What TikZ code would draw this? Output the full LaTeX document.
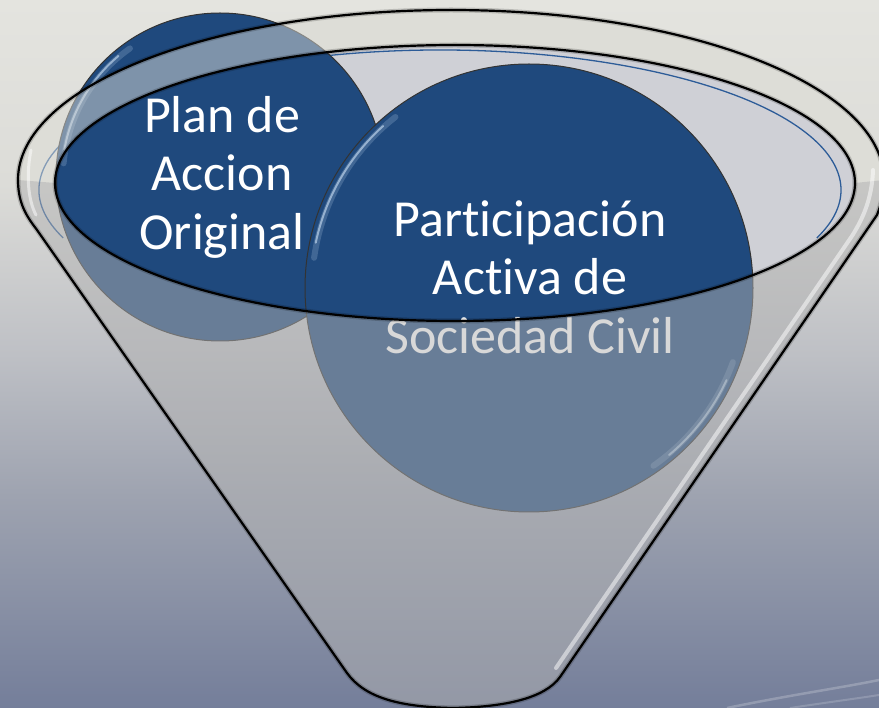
\documentclass[tikz,border=0pt]{standalone}
\usepackage{fontspec}
\setmainfont{Carlito}[RawFeature={-liga;-clig;-dlig;-calt}]
\usetikzlibrary{calc}

\definecolor{bgtop}{RGB}{228,228,223}
\definecolor{bgup}{RGB}{220,220,216}
\definecolor{bgmid}{RGB}{190,192,197}
\definecolor{bglow}{RGB}{158,163,176}
\definecolor{bgbot}{RGB}{116,126,154}
\definecolor{rimcol}{RGB}{221,221,215}
\definecolor{bodytop}{RGB}{188,188,186}
\definecolor{bodybot}{RGB}{162,163,168}
\definecolor{bodymid}{RGB}{178,178,178}
\definecolor{mouthcol}{RGB}{207,208,214}
\definecolor{navy}{RGB}{31,73,125}
\definecolor{edgeblue}{RGB}{45,92,152}
\definecolor{shine}{RGB}{205,226,246}

\pgfdeclareverticalshading{backdrop}{100bp}{color(0bp)=(bgbot); color(25bp)=(bgbot); color(40bp)=(bglow); color(50bp)=(bgmid); color(62bp)=(bgup); color(75bp)=(bgtop); color(100bp)=(bgtop)}

\def\shinearc[#1](#2)(#3:#4:#5){\draw[#1] ($(#2)+(#3:#5)$) arc[start angle=#3, end angle=#4, radius=#5];}

\tikzset{
	bubble/.style={circle, draw=black!80, line width=1pt, fill=navy, inner sep=0pt},
	bubbletext/.style={text=white, align=center, inner sep=0pt, font=\fontsize{52}{58.5}\selectfont},
	gloss/.style={shine, line width=2pt, opacity=0.6, line cap=round},
	softgloss/.style={shine, line width=6pt, opacity=0.2, line cap=round},
	rimline/.style={black, line width=2.2pt},
	rimshadow/.style={black, line width=5pt, opacity=0.18},
}

\begin{document}
\begin{tikzpicture}[x=1pt, y=-1pt]
			%%%%% START %%%%%
			
			\useasboundingbox (0,0) rectangle (879,708);
			\clip (0,0) rectangle (879,708);
			\shade[shading=backdrop] (0,0) rectangle (879,708);
			
			% streaks in the corner
			\draw[white, opacity=0.22, line width=2.5pt] (727,708) .. controls (790,695) and (840,688) .. (879,680);
			\draw[white, opacity=0.18, line width=2pt] (790,708) .. controls (830,702) and (860,698) .. (879,695);
			
			% funnel pieces
			\path[save path=\rimp] (18,180) arc[start angle=180, end angle=360, x radius=433, y radius=170]
				-- (855,183) arc[start angle=360, end angle=180, x radius=400, y radius=138] -- cycle;
			\path[save path=\bodyp] (18,180) .. controls (18,205) and (28,218) .. (37,230) -- (347,673)
				.. controls (365,698) and (400,707) .. (453,708) .. controls (506,707) and (545,698) .. (560,677)
				-- (877,215) .. controls (880,207) and (884,195) .. (884,180)
				-- (855,183) arc[start angle=0, end angle=180, x radius=400, y radius=138] -- cycle;
			\path[save path=\outlinep] (18,180) arc[start angle=180, end angle=360, x radius=433, y radius=170]
				.. controls (884,195) and (880,207) .. (877,215) -- (560,677)
				.. controls (545,698) and (506,707) .. (453,708) .. controls (400,707) and (365,698) .. (347,673)
				-- (37,230) .. controls (28,218) and (18,205) .. (18,180) -- cycle;
			
			\fill[rimcol, use path=\rimp];
			\shade[top color=bodytop, bottom color=bodybot, use path=\bodyp];
			\fill[mouthcol] (455,183) ellipse[x radius=400, y radius=138];
			\draw[edgeblue, line width=1.3pt] (63.2,237.9) arc[start angle=160, end angle=380, x radius=401, y radius=140];
			
			% the two bubbles
			\node[bubble, minimum size=328pt] (plan) at (220,177) {};
			\shinearc[softgloss](plan.center)(185:235:157)
			\shinearc[gloss](plan.center)(190:230:158)
			
			\node[bubble, minimum size=448pt] (part) at (529,288) {};
			\shinearc[softgloss](part.center)(188:232:217)
			\shinearc[gloss](part.center)(192:228:218)
			\shinearc[softgloss](part.center)(20:55:217)
			\shinearc[gloss](part.center)(25:50:218)
			
			\node[bubbletext] (plantxt) at (222,177) {Plan de\\Accion\\Original};
			\node[bubbletext] (parttxt) at (530,277) {Participación\\Activa de\\Sociedad Civil};
			
			% glass in front
			\fill[rimcol, opacity=0.5, use path=\rimp];
			\fill[bodymid, opacity=0.5, use path=\bodyp];
			
			\draw[white, opacity=0.5, line width=4pt, line cap=round] (873,170) .. controls (872,200) and (862,220) .. (852,236) -- (556,668);
			\draw[white, opacity=0.5, line width=3pt, line cap=round] (31,150) .. controls (26,175) and (28,200) .. (36,215);
			
			\draw[rimshadow, use path=\outlinep];
			\draw[rimshadow] (455,183) ellipse[x radius=400, y radius=138];
			\draw[rimline, use path=\outlinep];
			\draw[rimline] (455,183) ellipse[x radius=400, y radius=138];
			
			%%%%% END %%%%%
		\end{tikzpicture}
\end{document}
